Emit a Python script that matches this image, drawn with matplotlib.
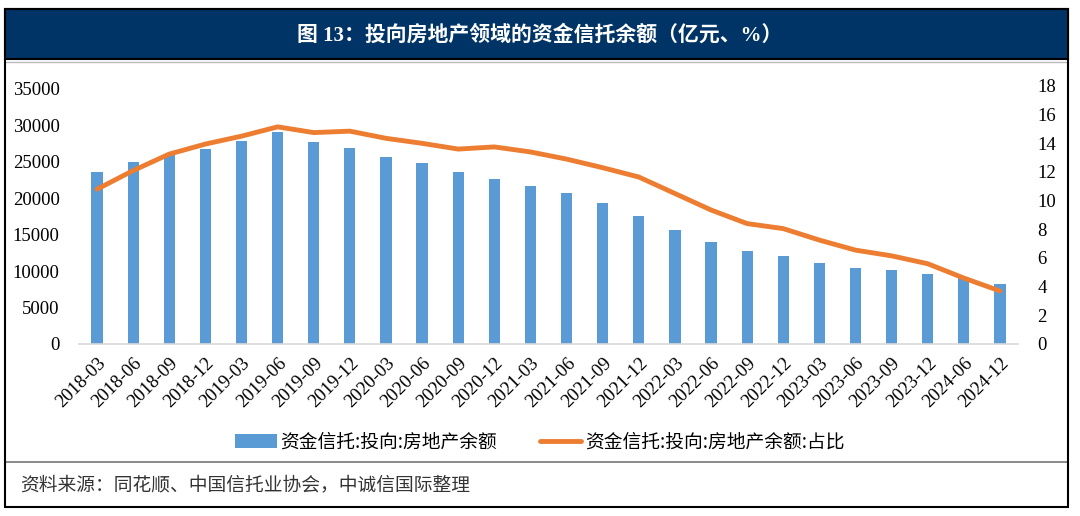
import numpy as np
import matplotlib
matplotlib.use("Agg")
import matplotlib.pyplot as plt
from matplotlib.patches import Rectangle
from matplotlib.lines import Line2D

plt.rcParams['font.family'] = ['Liberation Serif', 'Noto Sans CJK SC', 'DejaVu Sans']

dates = ["2018-03", "2018-06", "2018-09", "2018-12", "2019-03", "2019-06", "2019-09",
         "2019-12", "2020-03", "2020-06", "2020-09", "2020-12", "2021-03", "2021-06",
         "2021-09", "2021-12", "2022-03", "2022-06", "2022-09", "2022-12", "2023-03",
         "2023-06", "2023-09", "2023-12", "2024-06", "2024-12"]
balance = [23600, 25000, 25900, 26800, 27900, 29150, 27700, 26900, 25700, 24900,
           23600, 22650, 21650, 20700, 19350, 17550, 15600, 14000, 12700, 12100,
           11100, 10400, 10100, 9650, 9000, 8250]
share = [10.8, 12.1, 13.25, 13.95, 14.5, 15.15, 14.75, 14.85, 14.35, 14.0,
         13.6, 13.75, 13.4, 12.9, 12.3, 11.65, 10.5, 9.35, 8.4, 8.05,
         7.25, 6.55, 6.15, 5.6, 4.6, 3.7]

blue = "#5B9BD5"
orange = "#ED7D31"
navy = "#003466"

fig = plt.figure(figsize=(10.8, 5.16), dpi=100)

# frame and title banner
fig.patches.append(Rectangle((5 / 1080, 1 - 507 / 516), 1063 / 1080, 498 / 516,
                             transform=fig.transFigure, facecolor="none",
                             edgecolor="black", linewidth=1.5, zorder=5))
fig.patches.append(Rectangle((5 / 1080, 1 - 59 / 516), 1063 / 1080, 50 / 516,
                             transform=fig.transFigure, facecolor=navy,
                             edgecolor="black", linewidth=1.5, zorder=5))
fig.lines.append(Line2D([5 / 1080, 1068 / 1080], [1 - 62 / 516, 1 - 62 / 516],
                        transform=fig.transFigure, color="#BBBBBB", linewidth=1))
fig.lines.append(Line2D([5 / 1080, 1068 / 1080], [1 - 462 / 516, 1 - 462 / 516],
                        transform=fig.transFigure, color="#777777", linewidth=1.2))
fig.text(540 / 1080, 1 - 35 / 516, "图 13：投向房地产领域的资金信托余额（亿元、%）",
         ha="center", va="center", color="white", fontsize=15, fontweight="bold",
         family=['Liberation Serif', 'Noto Sans CJK SC'], zorder=6)
fig.text(20 / 1080, 1 - 485 / 516, "资料来源：同花顺、中国信托业协会，中诚信国际整理",
         ha="left", va="center", color="#333333", fontsize=13.5, style="italic",
         family=['Noto Sans CJK SC', 'DejaVu Sans'])

ax = fig.add_axes([79 / 1080, 1 - 344 / 516, 939 / 1080, 258 / 516])
ax.set_facecolor("none")
x = np.arange(len(dates))
ax.bar(x, balance, width=0.31, color=blue, label="资金信托:投向:房地产余额", zorder=2)
ax.set_xlim(-0.5, len(dates) - 0.5)
ax.set_ylim(0, 35000 * 258 / 255)
ax.set_yticks(np.arange(0, 35001, 5000))
ax.set_xticks(x)
ax.set_xticklabels(dates, rotation=45, ha="right", rotation_mode="anchor")
for s in ["top", "right", "left"]:
    ax.spines[s].set_visible(False)
ax.spines["bottom"].set_color("#D9D9D9")
ax.spines["bottom"].set_linewidth(1.2)
ax.tick_params(axis="both", length=0, labelsize=13.5)
ax.tick_params(axis="y", pad=14)
ax.tick_params(axis="x", pad=8)

ax2 = ax.twinx()
ax2.plot(x, share, color=orange, linewidth=3.5, label="资金信托:投向:房地产余额:占比",
         solid_capstyle="round", zorder=3)
ax2.set_ylim(0, 18)
ax2.set_yticks(np.arange(0, 19, 2))
for s in ["top", "right", "left", "bottom"]:
    ax2.spines[s].set_visible(False)
ax2.tick_params(axis="y", length=0, labelsize=13.5, pad=14)

h1, l1 = ax.get_legend_handles_labels()
h2, l2 = ax2.get_legend_handles_labels()
fig.legend(h1 + h2, l1 + l2, loc="center", bbox_to_anchor=(540 / 1080, 1 - 442 / 516),
           ncol=2, frameon=False, handlelength=2.2, columnspacing=2.3,
           handletextpad=0.2, prop={'family': ['Noto Sans CJK SC'], 'size': 13.5})

fig.savefig("out.png", dpi=100)
